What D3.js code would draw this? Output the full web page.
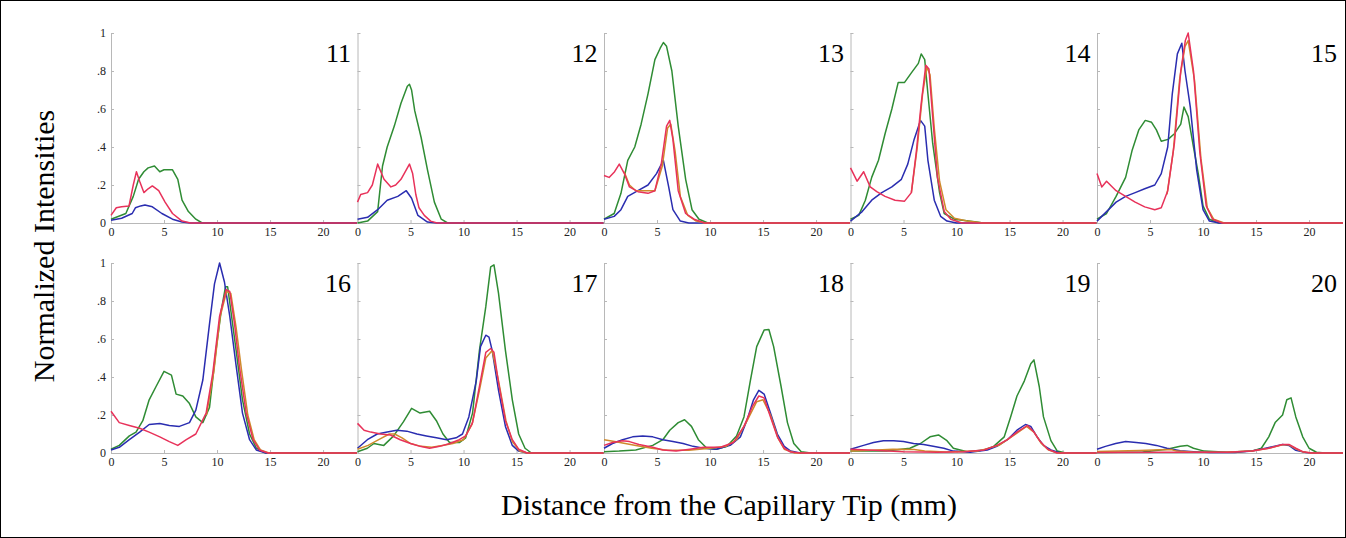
<!DOCTYPE html>
<html>
<head>
<meta charset="utf-8">
<script src="https://cdn.jsdelivr.net/npm/d3@7"></script>
<style>
  body { margin: 0; background: #fff; }
  svg { display: block; font-family: "Liberation Serif", "Times New Roman", serif; }
  .axis path, .axis line { stroke: #b8b8b8; }
  .axis text { fill: #222; font-size: 12px; font-family: "Liberation Serif", serif; }
  .curve { fill: none; stroke-width: 1.5; stroke-linejoin: round; }
</style>
</head>
<body>
<div id="chart"></div>
<script>
// panel ids and axis ticks
var panelNames = ["11", "12", "13", "14", "15", "16", "17", "18", "19", "20"];
var xMax = 23.2;
var xTicks = [0, 5, 10, 15, 20];
var yTicks = [0, 0.2, 0.4, 0.6, 0.8, 1];
var yTickLabels = ["0", ".2", ".4", ".6", ".8", "1"];

// [distance mm, normalized intensity]
var p11Green = [[0,0.02],[1.4,0.05],[2.1,0.14],[2.6,0.23],[3.1,0.27],[3.5,0.29],[4.1,0.3],[4.6,0.27],[5.0,0.28],[5.5,0.28],[5.8,0.28],[6.3,0.23],[6.7,0.12],[7.3,0.06],[8.0,0.02],[8.6,0],[23.2,0]];
var p11Red = [[0,0.04],[0.5,0.08],[1,0.085],[1.7,0.09],[2.1,0.2],[2.4,0.27],[2.7,0.22],[3.1,0.16],[3.5,0.18],[3.9,0.195],[4.5,0.17],[5.1,0.11],[5.8,0.05],[6.7,0.01],[7.5,0],[23.2,0]];
var p11Blue = [[0,0.015],[1,0.025],[2,0.05],[2.3,0.08],[2.8,0.09],[3.2,0.095],[3.9,0.085],[4.8,0.05],[5.8,0.02],[6.7,0.005],[7.5,0],[23.2,0]];
var p11Orange = [];

var p12Green = [[0,0],[0.95,0.01],[1.9,0.06],[2.36,0.3],[2.8,0.4],[3.47,0.51],[4.1,0.63],[4.7,0.72],[4.9,0.73],[5.1,0.7],[5.4,0.59],[6,0.45],[6.6,0.28],[7.25,0.11],[7.9,0.02],[8.5,0],[23.2,0]];
var p12Red = [[0,0.11],[0.3,0.15],[0.95,0.16],[1.4,0.2],[1.9,0.31],[2.5,0.23],[3.15,0.19],[3.6,0.2],[4.1,0.23],[4.6,0.28],[4.9,0.31],[5.2,0.26],[5.5,0.15],[5.8,0.08],[6.3,0.04],[6.9,0.01],[7.5,0],[23.2,0]];
var p12Blue = [[0,0.02],[0.95,0.03],[1.9,0.07],[2.8,0.12],[3.8,0.14],[4.6,0.17],[5.1,0.13],[5.7,0.04],[6.6,0.005],[7.5,0],[23.2,0]];
var p12Orange = [];

var p13Green = [[0,0.02],[0.96,0.05],[1.6,0.156],[2.24,0.33],[2.9,0.4],[3.5,0.52],[4.15,0.68],[4.8,0.86],[5.3,0.92],[5.6,0.95],[5.9,0.93],[6.4,0.8],[7.0,0.51],[7.7,0.23],[8.3,0.07],[8.96,0.02],[9.8,0],[23.2,0]];
var p13Red = [[0,0.25],[0.48,0.24],[1,0.27],[1.44,0.31],[1.92,0.26],[2.4,0.19],[3.2,0.165],[4.15,0.156],[4.8,0.17],[5.4,0.31],[5.9,0.51],[6.2,0.54],[6.5,0.44],[7.0,0.17],[7.7,0.05],[8.5,0.02],[9.5,0],[23.2,0]];
var p13Blue = [[0,0.02],[0.96,0.035],[1.6,0.07],[2.24,0.14],[3.2,0.17],[4.15,0.2],[4.95,0.26],[5.6,0.33],[6.1,0.19],[6.5,0.07],[7.2,0.01],[8,0],[23.2,0]];
var p13Orange = [[1.9,0.27],[2.4,0.2],[3.0,0.17],[4.8,0.17],[5.5,0.3],[6.0,0.5],[6.3,0.52],[6.7,0.38],[7.2,0.14],[7.9,0.04],[8.7,0.01],[9.5,0],[23.2,0]];

var p14Green = [[0,0.02],[0.78,0.04],[1.4,0.12],[2.0,0.24],[2.64,0.33],[3.26,0.47],[3.9,0.6],[4.5,0.74],[5.1,0.74],[5.74,0.79],[6.4,0.84],[6.67,0.89],[7.0,0.86],[7.3,0.68],[7.75,0.42],[8.4,0.16],[8.84,0.05],[9.8,0.02],[11.9,0.005],[12.5,0],[23.2,0]];
var p14Red = [[0,0.29],[0.62,0.22],[1.24,0.27],[1.86,0.19],[2.48,0.165],[3.26,0.14],[4.2,0.12],[5.1,0.115],[5.74,0.16],[6.2,0.37],[6.67,0.63],[7.1,0.83],[7.4,0.81],[7.75,0.56],[8.2,0.24],[8.84,0.06],[9.46,0.02],[10.5,0],[23.2,0]];
var p14Blue = [[0,0.01],[1.1,0.06],[2.0,0.12],[2.95,0.16],[3.9,0.19],[4.8,0.23],[5.4,0.31],[6.0,0.44],[6.6,0.54],[7.0,0.51],[7.3,0.33],[7.9,0.12],[8.5,0.035],[9.1,0.01],[10,0],[23.2,0]];
var p14Orange = [[5.74,0.16],[6.3,0.4],[6.8,0.68],[7.2,0.82],[7.5,0.78],[7.9,0.5],[8.4,0.22],[9.0,0.07],[9.8,0.025],[11,0.01],[12.5,0],[23.2,0]];

var p15Green = [[0,0.02],[0.9,0.05],[1.8,0.14],[2.7,0.24],[3.3,0.38],[3.94,0.49],[4.55,0.54],[5.15,0.53],[5.6,0.49],[6.06,0.43],[6.7,0.44],[7.3,0.47],[7.9,0.52],[8.2,0.61],[8.6,0.56],[9.1,0.4],[9.55,0.26],[10,0.09],[10.6,0.02],[11.5,0],[23.2,0]];
var p15Red = [[0,0.26],[0.45,0.19],[0.9,0.22],[1.8,0.17],[2.7,0.14],[3.6,0.11],[4.5,0.085],[5.45,0.07],[6.06,0.08],[6.67,0.17],[7.3,0.42],[7.9,0.8],[8.33,0.96],[8.6,1.0],[9.1,0.8],[9.7,0.37],[10.3,0.09],[10.9,0.02],[11.8,0],[23.2,0]];
var p15Blue = [[0,0.01],[0.9,0.06],[1.8,0.11],[2.7,0.14],[3.6,0.16],[4.5,0.18],[5.45,0.2],[6.06,0.26],[6.67,0.4],[7.1,0.68],[7.58,0.89],[8.0,0.946],[8.3,0.8],[8.8,0.61],[9.4,0.28],[10,0.07],[10.6,0.01],[11.5,0],[23.2,0]];
var p15Orange = [[6.6,0.15],[7.2,0.38],[7.8,0.76],[8.3,0.93],[8.6,0.96],[9.2,0.75],[9.8,0.34],[10.4,0.08],[11.0,0.02],[12,0],[23.2,0]];

var p16Green = [[0,0.02],[0.78,0.04],[1.73,0.09],[2.36,0.11],[3.0,0.17],[3.6,0.28],[4.25,0.35],[5.0,0.43],[5.7,0.41],[6.14,0.31],[6.77,0.3],[7.4,0.26],[8.0,0.19],[8.66,0.16],[9.29,0.24],[9.9,0.54],[10.4,0.75],[10.8,0.875],[11.0,0.875],[11.3,0.75],[11.8,0.54],[12.4,0.28],[13.07,0.1],[13.7,0.026],[14.6,0],[23.2,0]];
var p16Red = [[0,0.22],[0.78,0.16],[1.73,0.145],[2.7,0.13],[3.6,0.11],[4.6,0.085],[5.5,0.06],[6.3,0.04],[7.1,0.07],[8.0,0.1],[8.97,0.21],[9.6,0.42],[10.24,0.72],[10.86,0.86],[11.2,0.85],[11.65,0.68],[12.1,0.46],[12.75,0.21],[13.4,0.07],[14.0,0.016],[14.8,0],[23.2,0]];
var p16Blue = [[0,0.016],[0.78,0.03],[1.73,0.07],[2.7,0.11],[3.6,0.15],[4.6,0.155],[5.5,0.145],[6.45,0.14],[7.4,0.16],[8.0,0.226],[8.66,0.384],[9.29,0.68],[9.76,0.89],[10.24,1.0],[10.7,0.9],[11.2,0.72],[11.8,0.46],[12.4,0.21],[13.07,0.07],[13.7,0.016],[14.6,0],[23.2,0]];
var p16Orange = [[9.0,0.2],[9.7,0.43],[10.3,0.72],[10.9,0.85],[11.3,0.84],[11.8,0.66],[12.3,0.44],[12.9,0.2],[13.5,0.07],[14.1,0.016],[14.9,0],[23.2,0]];

var p17Green = [[0,0.007],[0.93,0.025],[1.55,0.05],[2.48,0.04],[3.41,0.09],[4.34,0.165],[5.1,0.235],[5.9,0.21],[6.8,0.22],[7.44,0.17],[8.06,0.1],[8.68,0.055],[9.6,0.055],[10.2,0.08],[10.85,0.21],[11.5,0.54],[12.1,0.77],[12.56,0.98],[12.87,0.99],[13.3,0.84],[13.95,0.54],[14.6,0.28],[15.2,0.1],[15.8,0.025],[16.4,0],[23.2,0]];
var p17Red = [[0,0.156],[0.62,0.12],[1.24,0.11],[2.17,0.1],[3.1,0.095],[4.03,0.07],[5.0,0.05],[5.9,0.035],[6.8,0.025],[7.75,0.035],[8.7,0.05],[9.6,0.07],[10.2,0.09],[10.85,0.16],[11.5,0.35],[12.1,0.53],[12.56,0.55],[12.87,0.53],[13.3,0.37],[13.95,0.17],[14.6,0.07],[15.2,0.02],[16,0],[23.2,0]];
var p17Blue = [[0,0.025],[0.93,0.07],[1.86,0.1],[2.8,0.11],[3.7,0.12],[4.65,0.115],[5.6,0.1],[6.5,0.09],[7.44,0.08],[8.4,0.07],[9.3,0.08],[9.9,0.1],[10.5,0.19],[11.2,0.38],[11.6,0.56],[12.1,0.62],[12.4,0.61],[12.7,0.54],[13.3,0.33],[13.95,0.14],[14.6,0.04],[15.2,0.01],[16,0],[23.2,0]];
var p17Orange = [[0,0.02],[1,0.04],[2,0.07],[3,0.1],[3.5,0.1],[4.2,0.08],[5,0.05],[6,0.035],[7,0.03],[8,0.04],[9,0.05],[10,0.07],[10.8,0.15],[11.5,0.33],[12.1,0.5],[12.7,0.54],[13.3,0.38],[14,0.17],[14.6,0.06],[15.3,0.01],[16,0],[23.2,0]];

var p18Green = [[0,0.007],[1.43,0.01],[3.0,0.016],[4.6,0.04],[5.55,0.07],[6.2,0.12],[7.0,0.16],[7.6,0.175],[8.25,0.14],[8.9,0.07],[9.7,0.025],[10.6,0.02],[11.6,0.035],[12.5,0.09],[13.2,0.19],[13.8,0.38],[14.4,0.56],[15.1,0.647],[15.55,0.65],[16.0,0.56],[16.7,0.35],[17.3,0.16],[17.9,0.05],[18.6,0.007],[19.5,0],[23.2,0]];
var p18Red = [[0,0.04],[0.8,0.055],[1.75,0.065],[2.4,0.06],[3.3,0.045],[4.6,0.03],[5.55,0.016],[6.8,0.01],[8.1,0.02],[9.4,0.03],[11,0.03],[12.2,0.055],[13.2,0.14],[14.0,0.245],[14.6,0.3],[15.1,0.29],[15.7,0.19],[16.35,0.085],[17.0,0.025],[17.6,0.005],[18.5,0],[23.2,0]];
var p18Blue = [[0,0.025],[0.8,0.05],[1.75,0.07],[2.7,0.085],[3.65,0.09],[4.6,0.085],[5.55,0.07],[6.5,0.06],[7.46,0.05],[8.4,0.035],[9.4,0.025],[10.6,0.02],[11.9,0.04],[12.86,0.085],[13.5,0.175],[14.1,0.28],[14.6,0.33],[15.1,0.31],[15.7,0.21],[16.35,0.1],[17.0,0.035],[17.6,0.01],[18.5,0],[23.2,0]];
var p18Orange = [[0,0.07],[1,0.06],[2,0.05],[3,0.04],[4.5,0.025],[6,0.015],[8,0.015],[10,0.025],[11.5,0.035],[12.5,0.07],[13.5,0.17],[14.4,0.27],[15,0.28],[15.7,0.2],[16.4,0.08],[17,0.02],[18,0],[23.2,0]];

var p19Green = [[0,0.01],[3.4,0.01],[5.6,0.025],[6.6,0.05],[7.5,0.085],[8.3,0.095],[9.1,0.065],[9.7,0.025],[11.0,0.007],[12.6,0.016],[13.5,0.035],[14.5,0.085],[15.1,0.19],[15.7,0.3],[16.4,0.38],[17.0,0.47],[17.3,0.49],[17.8,0.35],[18.2,0.19],[18.9,0.065],[19.5,0.01],[20.3,0],[23.2,0]];
var p19Red = [[0,0.02],[2.17,0.014],[5,0.007],[8.2,0.004],[10.7,0.007],[12.6,0.016],[13.8,0.04],[14.8,0.07],[15.7,0.11],[16.7,0.145],[17.3,0.11],[17.9,0.06],[18.6,0.02],[19.5,0],[23.2,0]];
var p19Blue = [[0,0.02],[1.23,0.04],[2.17,0.055],[3.1,0.065],[4.06,0.065],[5.0,0.06],[5.95,0.05],[6.9,0.045],[7.8,0.035],[8.8,0.025],[9.7,0.01],[11.3,0.004],[12.9,0.016],[13.8,0.035],[14.8,0.07],[15.7,0.12],[16.5,0.15],[17.0,0.14],[17.6,0.085],[18.2,0.04],[18.9,0.016],[19.8,0],[23.2,0]];
var p19Orange = [[0,0.01],[2,0.015],[4,0.02],[6,0.018],[7,0.01],[9,0.005],[12,0.01],[14,0.04],[15.7,0.105],[16.6,0.14],[17.3,0.11],[18,0.05],[18.7,0.015],[19.5,0],[23.2,0]];

var p20Green = [[0,0.003],[4.3,0.005],[6.6,0.02],[7.85,0.035],[8.5,0.04],[9.1,0.025],[10.1,0.01],[12.3,0.004],[14.6,0.01],[15.5,0.025],[16.2,0.085],[16.8,0.16],[17.5,0.2],[17.9,0.28],[18.3,0.29],[18.75,0.19],[19.4,0.085],[20,0.025],[20.7,0.004],[21.5,0],[23.2,0]];
var p20Red = [[0,0.003],[5.9,0.004],[12.3,0.004],[14.6,0.01],[16.2,0.025],[17.5,0.045],[18.1,0.045],[18.75,0.025],[19.4,0.007],[20.2,0],[23.2,0]];
var p20Blue = [[0,0.02],[0.8,0.035],[1.76,0.05],[2.7,0.06],[3.7,0.055],[4.6,0.05],[5.6,0.04],[6.6,0.025],[7.85,0.012],[9.1,0.007],[10.7,0.002],[13,0.003],[14.6,0.01],[15.9,0.025],[17.5,0.045],[18.1,0.04],[18.75,0.014],[19.7,0.003],[20.5,0],[23.2,0]];
var p20Orange = [[0,0.008],[2,0.01],[4,0.013],[6,0.017],[7,0.018],[7.5,0.01],[9,0.005],[12,0.004],[14.6,0.01],[16.2,0.025],[17.5,0.043],[18.1,0.043],[18.75,0.022],[19.4,0.006],[20.2,0],[23.2,0]];

var greenSeries = [p11Green, p12Green, p13Green, p14Green, p15Green, p16Green, p17Green, p18Green, p19Green, p20Green];
var redSeries = [p11Red, p12Red, p13Red, p14Red, p15Red, p16Red, p17Red, p18Red, p19Red, p20Red];
var blueSeries = [p11Blue, p12Blue, p13Blue, p14Blue, p15Blue, p16Blue, p17Blue, p18Blue, p19Blue, p20Blue];
var orangeSeries = [p11Orange, p12Orange, p13Orange, p14Orange, p15Orange, p16Orange, p17Orange, p18Orange, p19Orange, p20Orange];

var colors = { green: "#2f8c34", blue: "#2a2db0", orange: "#cf8a2c", red: "#e8325a" };

var width = 1346, height = 538;
var margin = { left: 111, top: 33 };
var colStep = 246.5, plotW = 246, plotH = 190, rowStep = 230;

var svg = d3.select('#chart').append('svg')
  .attr('width', width)
  .attr('height', height);

svg.append('rect')
  .attr('x', 0.5).attr('y', 0.5)
  .attr('width', width - 1).attr('height', height - 1)
  .attr('fill', '#fff').attr('stroke', '#000');

panelNames.forEach(function(name, i) {
  var col = i % 5, row = Math.floor(i / 5);
  var g = svg.append('g')
    .attr('transform', 'translate(' + (margin.left + col * colStep) + ',' + (margin.top + row * rowStep) + ')');

  var x = d3.scaleLinear().domain([0, xMax]).range([0, plotW]);
  var y = d3.scaleLinear().domain([0, 1]).range([plotH, 0]);

  var yAxis = d3.axisLeft(y).tickValues(yTicks).tickSize(-3).tickPadding(5)
    .tickFormat(function(d, k) { return col === 0 ? yTickLabels[k] : ''; });
  var xAxis = d3.axisBottom(x).tickValues(xTicks).tickSize(-3).tickPadding(4)
    .tickFormat(d3.format('d'));

  var ya = g.append('g').attr('class', 'axis').call(yAxis)
    .attr('font-family', 'Liberation Serif, serif').attr('font-size', 12);
  ya.select('.domain').attr('d', 'M0.5,' + y(1) + 'V' + y(0));
  var xa = g.append('g').attr('class', 'axis').attr('transform', 'translate(0,' + plotH + ')').call(xAxis)
    .attr('font-family', 'Liberation Serif, serif').attr('font-size', 12);
  xa.select('.domain').attr('d', 'M0,0.5H' + plotW);

  var line = d3.line()
    .x(function(d) { return x(d[0]); })
    .y(function(d) { return y(d[1]); });

  [['green', greenSeries], ['blue', blueSeries], ['orange', orangeSeries], ['red', redSeries]].forEach(function(s) {
    var pts = s[1][i];
    if (!pts.length) return;
    g.append('path').datum(pts).attr('class', 'curve')
      .attr('stroke', colors[s[0]])
      .attr('d', line);
  });

  g.append('text')
    .attr('x', plotW - 6).attr('y', 29)
    .attr('text-anchor', 'end')
    .attr('font-size', 26)
    .attr('fill', '#000')
    .text(name);
});

svg.append('text')
  .attr('transform', 'translate(54,246) rotate(-90)')
  .attr('text-anchor', 'middle')
  .attr('font-size', 30)
  .text('Normalized Intensities');

svg.append('text')
  .attr('x', 729).attr('y', 515)
  .attr('text-anchor', 'middle')
  .attr('font-size', 30)
  .text('Distance from the Capillary Tip (mm)');
</script>
</body>
</html>
